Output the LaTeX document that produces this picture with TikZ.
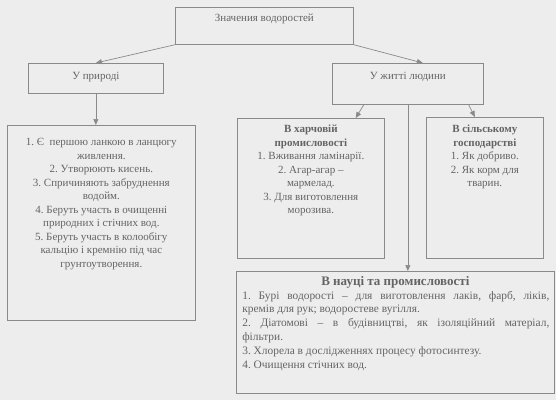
\documentclass[tikz,border=0pt]{standalone}
\usepackage{fontspec}
\setmainfont{Liberation Serif}
\usetikzlibrary{arrows.meta, positioning}
\definecolor{paper}{RGB}{237,237,237}
\definecolor{rulegray}{RGB}{138,138,138}
\definecolor{ink}{RGB}{100,100,100}
% box body: width, height, top pad, text
\newcommand{\boxbody}[4]{\parbox[t][#2][t]{#1}{\vspace*{#3}#4}}
\hyphenpenalty=10000
\frenchspacing

\begin{document}
\begin{tikzpicture}[
    x=1pt, y=-1pt,
    every node/.style={font=\fontsize{11}{13.5}\selectfont, text=ink},
    panel/.style={draw=rulegray, line width=0.7pt, inner sep=0pt,
                  anchor=north west},
    arr/.style={-{Triangle[length=6pt,width=5pt]}, rulegray, line width=0.7pt}
]
\useasboundingbox[fill=paper] (0,0) rectangle (556,400);

\node[panel] (main)   at (175,7)  {\boxbody{178pt}{37pt}{7pt}{\centering Значения водоростей}};
\node[panel] (nature) at (28,63)  {\boxbody{135pt}{30pt}{9pt}{\centering У природі}};
\node[panel] (life)   at (332,63) {\boxbody{151pt}{41pt}{9pt}{\centering У житті людини}};

\node[panel] (naturelist) at (7,125) {\boxbody{188pt}{195pt}{13pt}{\centering
    1. Є\ \ першою ланкою в ланцюгу\\ живлення.\\
    2. Утворюють кисень.\\
    3. Спричиняють забруднення\\ водойм.\\
    4. Беруть участь в очищенні\\ природних і стічних вод.\\
    5. Беруть участь в колообігу\\ кальцію і кремнію під час\\ грунтоутворення.}};

\node[panel] (food) at (237,118) {\boxbody{147pt}{140pt}{7pt}{\centering
    {\bfseries В харчовій\\ промисловості}\\
    1. Вживання ламінарії.\\
    2. Агар-агар –\\ мармелад.\\
    3. Для виготовлення\\ морозива.}};

\node[panel] (farm) at (426,117) {\boxbody{117pt}{141pt}{8pt}{\centering
    {\bfseries В сільському\\ господарстві}\\
    1. Як добриво.\\
    2. Як корм для\\ тварин.}};

\node[panel] (science) at (236,271) {\boxbody{318pt}{122pt}{5pt}{%
    {\centering\bfseries\fontsize{13}{17.5}\selectfont В науці та промисловості\par}
    \fontsize{11.4}{13.8}\selectfont
    \leftskip=6pt \rightskip=5pt \parindent=0pt
    1. Бурі водорості – для виготовлення лаків, фарб, ліків,\linebreak
    кремів для рук; водоростеве вугілля.\par
    2. Діатомові – в будівництві, як ізоляційний матеріал,\linebreak
    фільтри.\par
    3. Хлорела в дослідженнях процесу фотосинтезу.\par
    4. Очищення стічних вод.\par}};

\draw[arr] (main.south west) -- (nature.north);
\draw[arr] (main.south east) -- ([xshift=15pt]life.north);
\draw[arr] (nature.south) -- (nature.south |- naturelist.north);
\draw[arr] ([xshift=-44pt]life.south) -- ([xshift=-29pt]food.north east);
\draw[arr] ([xshift=-15pt]life.south east) -- ([xshift=-10pt]farm.north);
\draw[arr] (life.south) -- (life.south |- science.north);
\end{tikzpicture}
\end{document}
